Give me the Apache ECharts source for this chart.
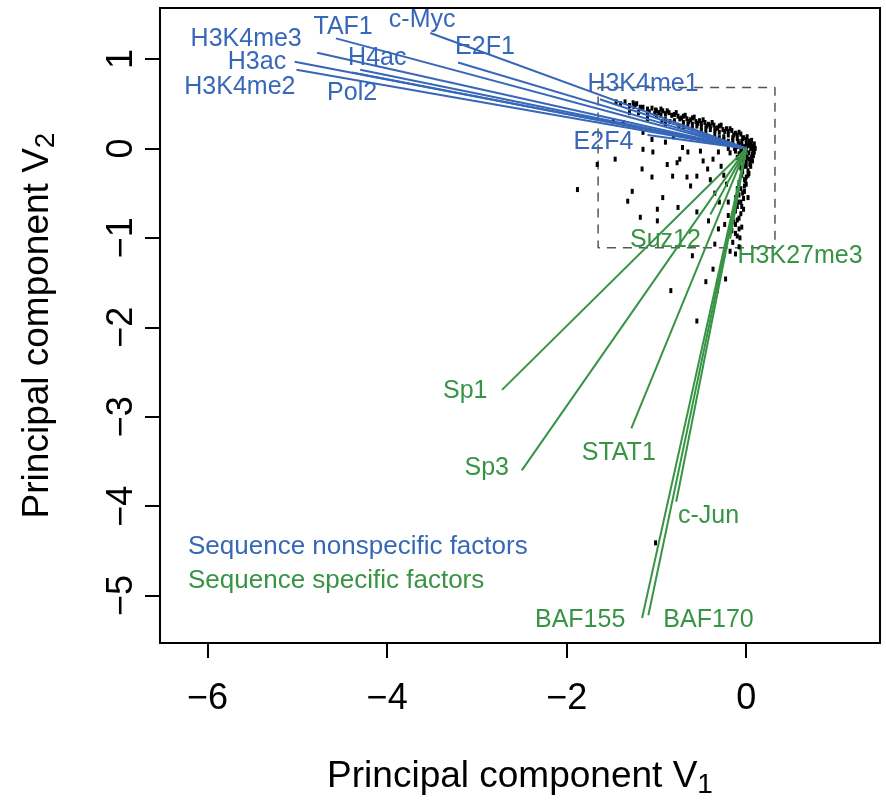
<!DOCTYPE html>
<html>
<head>
<meta charset="utf-8">
<script src="https://cdn.jsdelivr.net/npm/echarts@6/dist/echarts.min.js"></script>
<style>
  html, body { margin: 0; padding: 0; background: #fff; }
  #chart { width: 886px; height: 804px; }
</style>
</head>
<body>
<div id="chart"></div>
<script>
// factor loadings (arrow tips) and where their labels sit
const blueNames = ['H3K4me3', 'TAF1', 'c-Myc', 'E2F1', 'H3ac', 'H4ac', 'H3K4me2', 'Pol2', 'H3K4me1', 'E2F4'];
const blueTips = [[-4.78, 1.07], [-4.57, 1.23], [-3.52, 1.29], [-3.21, 0.96], [-5.03, 0.97], [-4.30, 0.88], [-5.01, 0.88], [-4.39, 0.85], [-1.63, 0.55], [-1.10, 0.15]];
const blueLabelPos = [[-5.57, 1.22], [-4.49, 1.36], [-3.61, 1.43], [-2.91, 1.13], [-5.45, 0.97], [-4.11, 1.01], [-5.64, 0.69], [-4.39, 0.62], [-1.15, 0.72], [-1.59, 0.07]];

const greenNames = ['Suz12', 'H3K27me3', 'Sp1', 'Sp3', 'STAT1', 'c-Jun', 'BAF155', 'BAF170'];
const greenTips = [[-0.40, -0.74], [-0.18, -1.01], [-2.72, -2.70], [-2.50, -3.60], [-1.28, -3.13], [-0.78, -3.95], [-1.16, -5.25], [-1.09, -5.22]];
const greenLabelPos = [[-0.90, -1.03], [0.60, -1.20], [-3.13, -2.71], [-2.89, -3.58], [-1.42, -3.41], [-0.42, -4.11], [-1.85, -5.27], [-0.42, -5.27]];

// zoom box
const boxX = [-1.65, 0.32];
const boxY = [-1.11, 0.68];

// scores
const scores = [
  [-1.45, 0.52], [-1.4, 0.5], [-1.35, 0.52], [-1.3, 0.48], [-1.25, 0.47], [-1.22, 0.5], [-1.18, 0.45], [-1.15, 0.46],
  [-1.1, 0.44], [-1.05, 0.45], [-1.0, 0.42], [-0.97, 0.4], [-0.93, 0.42], [-0.9, 0.39], [-0.86, 0.4], [-0.83, 0.37],
  [-0.8, 0.38], [-0.76, 0.36], [-0.72, 0.34], [-0.7, 0.36], [-0.66, 0.33], [-0.62, 0.32], [-0.6, 0.34], [-0.56, 0.3],
  [-0.52, 0.31], [-0.5, 0.28], [-0.46, 0.29], [-0.42, 0.27], [-0.4, 0.25], [-0.36, 0.26], [-0.32, 0.23], [-0.3, 0.25],
  [-0.26, 0.21], [-0.22, 0.22], [-0.2, 0.19], [-0.16, 0.2], [-0.12, 0.17], [-0.1, 0.15], [-0.06, 0.16], [-0.03, 0.12],
  [0.0, 0.1], [0.03, 0.08], [0.05, 0.05],
  [-1.3, 0.4], [-1.2, 0.4], [-1.1, 0.38], [-1.0, 0.36], [-0.9, 0.33], [-0.8, 0.31], [-0.7, 0.29], [-0.6, 0.27],
  [-0.5, 0.24], [-0.4, 0.21], [-0.3, 0.18], [-0.2, 0.15], [-0.1, 0.11], [-0.05, 0.08], [0.02, 0.03],
  [-0.9, 0.28], [-0.75, 0.25], [-0.6, 0.22], [-0.45, 0.18], [-0.35, 0.15], [-0.25, 0.13], [-0.15, 0.09], [-0.08, 0.05],
  [-0.95, 0.44], [-0.88, 0.42], [-0.78, 0.4], [-0.68, 0.37], [-0.58, 0.35], [-0.48, 0.32], [-0.38, 0.29], [-0.28, 0.26],
  [-0.18, 0.22], [-0.08, 0.18], [0.01, 0.13], [0.06, 0.09], [-0.74, 0.33], [-0.64, 0.3], [-0.54, 0.28], [-0.44, 0.25],
  [-0.34, 0.22], [-0.24, 0.19], [-0.14, 0.15], [-0.04, 0.11], [0.04, 0.06], [-1.08, 0.41], [-1.02, 0.39], [-0.95, 0.37],
  [0.09, 0.05], [0.1, 0.0], [0.09, -0.04], [0.08, -0.08], [0.07, -0.14], [0.05, -0.2], [0.03, -0.28], [-0.01, -0.36],
  [-0.15, 0.05], [-0.1, 0.02], [-0.05, 0.0], [0.0, -0.02], [0.05, 0.0], [0.08, 0.02], [-0.12, -0.03], [-0.08, -0.06],
  [-0.02, -0.08], [0.03, -0.05], [0.06, -0.1], [-0.05, -0.12], [0.0, -0.15], [0.04, -0.18], [-0.1, -0.1], [-0.18, -0.05],
  [-0.2, 0.0], [0.07, -0.06], [-0.03, -0.2], [0.02, -0.25], [-0.07, -0.16], [-0.01, -0.05], [0.03, -0.12], [-0.04, -0.26],
  [-0.25, 0.1], [-0.3, 0.12], [-0.2, 0.08], [-0.15, 0.12], [-0.05, 0.04], [0.0, 0.05], [0.06, 0.03], [0.08, -0.02],
  [-0.02, 0.02], [-0.09, 0.08], [-0.13, 0.0], [-0.06, -0.03], [0.01, -0.1], [0.05, -0.14], [-0.03, -0.14], [0.0, -0.2],
  [-0.06, -0.22], [0.02, -0.3], [-0.02, -0.35], [0.0, -0.4], [-0.06, -0.45], [-0.02, -0.48], [-0.08, -0.52], [-0.03, -0.56],
  [-0.09, -0.6], [-0.05, -0.65], [-0.12, -0.7], [-0.06, -0.73], [-0.1, -0.8], [-0.14, -0.82], [-0.08, -0.9], [-0.12, -0.95],
  [-0.2, -0.75], [-0.24, -0.85], [-0.3, -0.6], [-0.35, -0.5], [-0.28, -0.2], [-0.4, -0.35], [-0.5, 0.2], [-0.7, 0.24],
  [-0.85, 0.3], [-1.1, 0.33], [-0.35, 0.2], [-0.45, 0.23], [-0.55, 0.25], [-0.65, 0.27],
  [-0.05, -0.3], [0.0, -0.32], [-0.08, -0.38], [-0.02, -0.42], [-0.1, -0.45], [-0.04, -0.5], [-0.12, -0.55], [-0.06, -0.6],
  [-0.1, -0.65], [-0.03, -0.68], [-0.14, -0.72], [-0.08, -0.78], [-0.12, -0.85], [-0.05, -0.88], [-0.16, -0.92], [-0.1, -0.98],
  [-0.15, -1.05], [-0.08, -1.1], [-0.2, -0.6], [-0.22, -0.4], [-0.25, -0.3], [0.02, -0.55], [-0.18, -1.15],
  [-1.24, 0.49], [-1.18, 0.46], [-1.48, 0.30], [-1.46, -0.12], [-1.15, 0.18], [-1.15, -0.01], [-1.05, 0.10], [-1.04, -0.04],
  [-1.16, -0.23], [-1.05, -0.32], [-1.27, -0.48], [-1.32, -0.59], [-0.93, -0.55], [-0.82, -0.31], [-0.88, -0.18], [-0.74, -0.12],
  [-0.71, 0.01], [-0.65, -0.04], [-0.66, -0.32], [-0.62, -0.42], [-0.55, -0.31], [-0.51, -0.03], [-0.48, -0.14], [-0.43, -0.23],
  [-0.37, -0.12], [-0.31, -0.04], [-1.18, -0.77], [-0.99, -0.68], [-0.76, -0.66], [-0.55, -0.71], [-0.42, -0.81], [-0.31, -0.90],
  [-0.35, -1.07], [-0.60, -1.20], [-0.77, -0.16], [-0.90, 0.07], [-0.81, 0.13], [-1.37, 0.29], [-0.94, 0.30], [-1.88, -0.46],
  [-1.66, -0.18], [-0.99, -0.81], [-1.01, -4.41], [-0.37, -1.35], [-0.45, -1.49], [-0.32, -1.49], [-0.84, -1.59], [-0.55, -1.93],
  [-0.32, -1.59], [-1.26, 0.51], [-1.01, 0.43], [-0.07, -1.0], [-0.12, -1.18], [-0.23, -1.46]
];

const xTicks = [-6, -4, -2, 0];
const yTicks = [-5, -4, -3, -2, -1, 0, 1];

const BLUE = '#3767b8';
const GREEN = '#379445';
const FONT = 'Liberation Sans';

const chart = echarts.init(document.getElementById('chart'));

const vec = (tips) => tips.map(t => ({ coords: [[0, 0], t] }));
const labels = (names, pos) => names.map((n, i) => ({ name: n, value: pos[i] }));
const fmt = v => (v < 0 ? '\u2212' + Math.abs(v) : String(v));

const labelSeries = (names, pos, color) => ({
  type: 'scatter',
  data: labels(names, pos),
  symbolSize: 0,
  itemStyle: { color: color, opacity: 1 },
  silent: true,
  z: 3,
  label: {
    show: true,
    position: 'inside',
    formatter: p => p.name,
    color: color,
    opacity: 1,
    fontFamily: FONT,
    fontSize: 25
  }
});

chart.setOption({
  animation: false,
  grid: {
    left: 160, right: 6, top: 8, bottom: 159,
    show: true, borderColor: '#000', borderWidth: 2, backgroundColor: '#fff'
  },
  xAxis: {
    type: 'value', min: -6.53, max: 1.49,
    name: 'Principal component V{sub|1}',
    nameLocation: 'middle', nameGap: 112,
    nameTextStyle: {
      fontFamily: FONT, fontSize: 37, color: '#000',
      rich: { sub: { fontFamily: FONT, fontSize: 28, color: '#000', padding: [16, 0, 0, 0] } }
    },
    splitLine: { show: false },
    axisLine: { show: false, onZero: false },
    axisTick: { show: true, inside: false, length: 15, customValues: xTicks, lineStyle: { color: '#000', width: 2 } },
    axisLabel: { customValues: xTicks, formatter: fmt, margin: 38, fontFamily: FONT, fontSize: 36, color: '#000' }
  },
  yAxis: {
    type: 'value', min: -5.53, max: 1.57,
    name: 'Principal component V{sub|2}',
    nameLocation: 'middle', nameGap: 100,
    nameTextStyle: {
      fontFamily: FONT, fontSize: 37, color: '#000',
      rich: { sub: { fontFamily: FONT, fontSize: 28, color: '#000', padding: [16, 0, 0, 0] } }
    },
    splitLine: { show: false },
    axisLine: { show: false, onZero: false },
    axisTick: { show: true, inside: false, length: 15, customValues: yTicks, lineStyle: { color: '#000', width: 2 } },
    axisLabel: { customValues: yTicks, formatter: fmt, rotate: 90, margin: 20, fontFamily: FONT, fontSize: 36, color: '#000' }
  },
  graphic: [
    { type: 'text', left: 188, top: 534, style: { text: 'Sequence nonspecific factors', fill: BLUE, font: '26px "Liberation Sans"' } },
    { type: 'text', left: 188, top: 568, style: { text: 'Sequence specific factors', fill: GREEN, font: '26px "Liberation Sans"' } }
  ],
  series: [
    {
      type: 'line',
      data: [[boxX[0], boxY[1]], [boxX[1], boxY[1]], [boxX[1], boxY[0]], [boxX[0], boxY[0]], [boxX[0], boxY[1]]],
      showSymbol: false, silent: true, z: 1,
      lineStyle: { color: '#555', width: 1.5, type: [9, 7] }
    },
    labelSeries(blueNames, blueLabelPos, BLUE),
    labelSeries(greenNames, greenLabelPos, GREEN),
    {
      type: 'scatter',
      data: scores,
      symbol: 'rect',
      symbolSize: [3, 5],
      itemStyle: { color: '#000', opacity: 1 },
      silent: true, z: 4
    },
    {
      type: 'lines', coordinateSystem: 'cartesian2d',
      data: vec(blueTips), silent: true, z: 5,
      lineStyle: { color: BLUE, width: 2, opacity: 1 }
    },
    {
      type: 'lines', coordinateSystem: 'cartesian2d',
      data: vec(greenTips), silent: true, z: 5,
      lineStyle: { color: GREEN, width: 2, opacity: 1 }
    }
  ]
});
</script>
</body>
</html>
